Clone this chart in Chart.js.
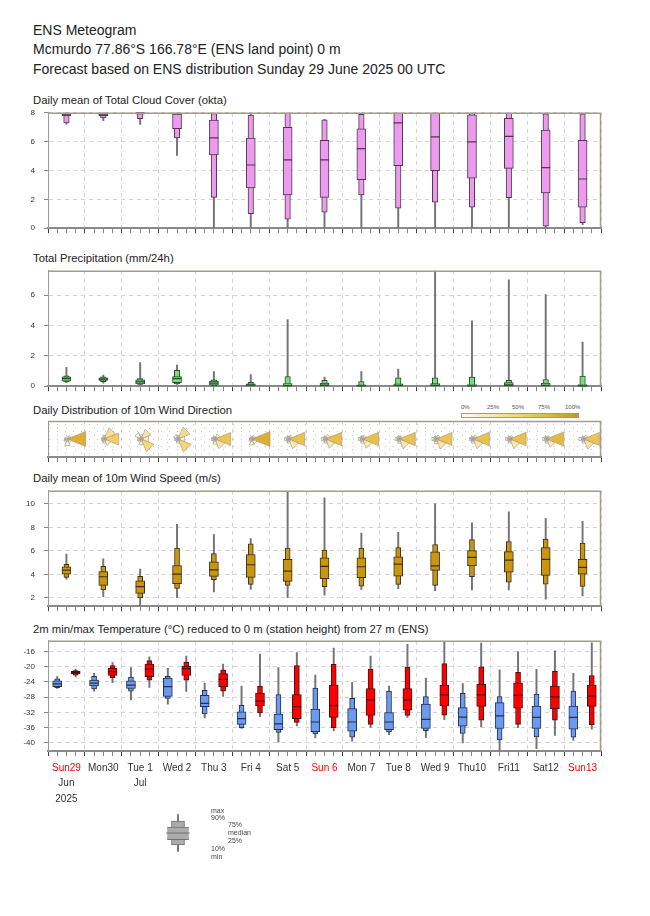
<!DOCTYPE html>
<html>
<head>
<meta charset="utf-8">
<title>ENS Meteogram</title>
<script src="https://cdn.jsdelivr.net/npm/chart.js@4.4.1/dist/chart.umd.min.js"></script>
<style>
  body { margin: 0; background: #fff; }
  #page { position: relative; width: 650px; height: 916px; overflow: hidden; font-family: "Liberation Sans", Arial, sans-serif; color: #222; }
  #page canvas { position: absolute; }
  .txt { position: absolute; white-space: nowrap; line-height: 1; }
  .head { left: 33px; font-size: 14px; color: #222; }
  .ptitle { left: 33px; font-size: 11.3px; color: #222; }
  .lg { font-size: 7px; color: #444; }
  .wl { font-size: 6px; color: #555; top: 404px; }
</style>
</head>
<body>
<div id="page">
  <div class="txt head" style="top:23px">ENS Meteogram</div>
  <div class="txt head" style="top:42px">Mcmurdo 77.86°S 166.78°E (ENS land point) 0 m</div>
  <div class="txt head" style="top:62px">Forecast based on ENS distribution Sunday 29 June 2025 00 UTC</div>

  <div class="txt ptitle" style="top:95px">Daily mean of Total Cloud Cover (okta)</div>
  <div class="txt ptitle" style="top:253px">Total Precipitation (mm/24h)</div>
  <div class="txt ptitle" style="top:405px">Daily Distribution of 10m Wind Direction</div>
  <div class="txt ptitle" style="top:473px">Daily mean of 10m Wind Speed (m/s)</div>
  <div class="txt ptitle" style="top:624px">2m min/max Temperature (°C) reduced to 0 m (station height) from 27 m (ENS)</div>

  <div class="txt wl" style="left:461px">0%</div>
  <div class="txt wl" style="left:487px">25%</div>
  <div class="txt wl" style="left:512px">50%</div>
  <div class="txt wl" style="left:538px">75%</div>
  <div class="txt wl" style="left:565px">100%</div>
  <div style="position:absolute;left:461px;top:413px;width:116px;height:3px;border:1px solid #a09a90;background:linear-gradient(to right,#fffdf3,#f3d270 50%,#c8961e)"></div>

  <canvas id="cloud"></canvas>
  <canvas id="precip"></canvas>
  <canvas id="wdir"></canvas>
  <canvas id="wspeed"></canvas>
  <canvas id="temp"></canvas>
  <canvas id="legend"></canvas>

  <div class="txt lg" style="left:211px;top:807px">max</div>
  <div class="txt lg" style="left:211px;top:814px">90%</div>
  <div class="txt lg" style="left:228px;top:821px">75%</div>
  <div class="txt lg" style="left:228px;top:829px">median</div>
  <div class="txt lg" style="left:228px;top:837px">25%</div>
  <div class="txt lg" style="left:211px;top:845px">10%</div>
  <div class="txt lg" style="left:211px;top:853px">min</div>
</div>

<script>
// days and axis labels
var days = ['Sun29', 'Mon30', 'Tue 1', 'Wed 2', 'Thu 3', 'Fri 4', 'Sat 5', 'Sun 6', 'Mon 7', 'Tue 8', 'Wed 9', 'Thu10', 'Fri11', 'Sat12', 'Sun13'];
var sundays = [0, 7, 14];
var monthTicks = [0.5, 2.5];
var monthLabels = [['Jun', '2025'], ['Jul']];

// total cloud cover (okta)
var cloudTicks = [0, 2, 4, 6, 8];
var cloudMin = [7.2, 7.45, 7.2, 5.05, 0, 0, 0, 0, 0, 0, 0, 0, 0, 0, 0.25];
var cloudP10 = [7.3, 7.65, 7.6, 6.25, 2.13, 1.0, 0.63, 1.11, 2.3, 1.39, 1.81, 1.46, 2.11, 0.14, 0.39];
var cloudP25 = [7.8, 7.8, 7.9, 6.9, 5.08, 2.8, 2.3, 2.13, 3.36, 4.34, 3.99, 3.46, 4.15, 2.44, 1.46];
var cloudMed = [7.9, 7.9, 8, 7.9, 6.26, 4.38, 4.73, 4.73, 5.52, 7.3, 6.33, 5.99, 6.36, 4.2, 3.41];
var cloudP75 = [8, 8, 8, 8, 7.5, 6.24, 7.0, 6.1, 6.89, 7.96, 8, 7.86, 7.61, 6.8, 6.1];
var cloudP90 = [8, 8, 8, 8, 7.95, 7.84, 8, 7.52, 7.89, 8, 8, 8, 8, 7.93, 7.93];
var cloudMax = [8, 8, 8, 8, 8, 7.9, 8, 7.55, 7.9, 8, 8, 8, 8, 8, 8];

// total precipitation (mm/24h)
var precipTicks = [0, 2, 4, 6];
var precipMin = [0.24, 0.2, 0.07, 0.11, 0, 0, 0, 0, 0, 0, 0, 0, 0, 0, 0];
var precipP10 = [0.29, 0.3, 0.11, 0.15, 0.02, 0, 0, 0, 0, 0, 0, 0, 0, 0, 0];
var precipP25 = [0.33, 0.38, 0.15, 0.24, 0.07, 0, 0, 0, 0, 0, 0, 0, 0, 0, 0];
var precipMed = [0.5, 0.46, 0.29, 0.5, 0.2, 0.09, 0.04, 0.07, 0.02, 0.05, 0.05, 0.02, 0.09, 0.05, 0.02];
var precipP75 = [0.62, 0.55, 0.42, 0.64, 0.33, 0.15, 0.18, 0.2, 0.09, 0.15, 0.18, 0.11, 0.24, 0.2, 0.11];
var precipP90 = [0.68, 0.62, 0.5, 1.04, 0.42, 0.26, 0.64, 0.38, 0.31, 0.55, 0.55, 0.6, 0.38, 0.44, 0.66];
var precipMax = [1.24, 0.73, 1.55, 1.39, 0.97, 0.77, 4.39, 0.6, 0.97, 1.13, 8.5, 4.3, 7.0, 6.03, 2.91];

// wind direction frequency (%) per sector N, NE, E, SE, S, SW, W, NW
var dirSectors = [0, 45, 90, 135, 180, 225, 270, 315];
var windDirPct = [
  [0, 3, 78, 4, 10, 3, 2, 0],
  [3, 30, 48, 10, 4, 2, 2, 1],
  [4, 22, 12, 38, 8, 3, 3, 10],
  [3, 33, 10, 40, 4, 2, 3, 5],
  [1, 6, 58, 22, 6, 2, 3, 2],
  [1, 3, 78, 6, 8, 2, 1, 1],
  [2, 4, 60, 22, 4, 2, 4, 2],
  [1, 5, 62, 20, 4, 2, 4, 2],
  [2, 4, 62, 20, 4, 2, 4, 2],
  [2, 3, 60, 23, 4, 2, 4, 2],
  [1, 4, 58, 24, 5, 2, 4, 2],
  [1, 4, 62, 22, 4, 2, 3, 2],
  [1, 3, 62, 22, 4, 2, 4, 2],
  [1, 3, 68, 16, 4, 2, 4, 2],
  [1, 4, 58, 24, 4, 2, 5, 2]
];

// 10m wind speed (m/s)
var windTicks = [2, 4, 6, 8, 10];
var windMin = [3.6, 2.11, 1.35, 2.03, 2.51, 2.73, 2.03, 2.23, 2.73, 2.79, 2.62, 2.68, 2.68, 1.89, 2.17];
var windP10 = [3.75, 2.68, 2.0, 2.82, 3.55, 3.15, 3.07, 2.96, 3.01, 3.15, 3.07, 3.8, 3.35, 3.18, 2.99];
var windP25 = [4.03, 3.07, 2.39, 3.21, 3.83, 3.75, 3.41, 3.63, 3.72, 3.86, 4.34, 4.73, 4.2, 3.92, 4.03];
var windMed = [4.37, 3.8, 2.96, 4.03, 4.39, 4.82, 4.28, 4.68, 4.65, 4.87, 4.73, 5.44, 5.21, 5.27, 4.59];
var windP75 = [4.65, 4.23, 3.46, 4.76, 5.07, 5.69, 5.27, 5.41, 5.41, 5.49, 5.92, 6.03, 5.94, 6.28, 5.27];
var windP90 = [4.85, 4.68, 3.83, 6.23, 5.77, 6.59, 6.23, 6.06, 6.23, 6.28, 6.54, 6.96, 6.79, 7.01, 6.65];
var windMax = [5.72, 5.32, 4.45, 8.25, 7.38, 7.04, 11.2, 10.5, 7.52, 7.58, 10.0, 8.39, 9.32, 8.76, 8.51];

// 2m temperature (°C), daily minimum
var tempTicks = [-16, -20, -24, -28, -32, -36, -40];
var tminMin = [-25.7, -26.4, -28.7, -29.8, -33.4, -36.2, -39.8, -38.7, -39.5, -37.8, -38.6, -40.0, -42.0, -41.5, -39.3];
var tminP10 = [-25.5, -25.8, -26.4, -28.3, -32.4, -36.0, -37.2, -37.6, -38.5, -37.1, -36.8, -37.5, -39.2, -38.4, -38.5];
var tminP25 = [-25.2, -25.0, -25.7, -27.8, -30.5, -35.1, -36.5, -37.0, -36.9, -36.5, -36.2, -35.6, -36.2, -36.2, -36.4];
var tminMed = [-24.5, -24.3, -24.8, -25.2, -29.6, -33.6, -35.0, -34.5, -34.5, -34.5, -33.8, -33.2, -32.9, -33.3, -33.3];
var tminP75 = [-23.7, -23.5, -23.7, -23.0, -27.5, -31.8, -32.4, -31.1, -31.0, -32.0, -29.8, -30.7, -29.4, -30.3, -30.3];
var tminP90 = [-23.2, -22.5, -22.7, -22.5, -26.2, -30.1, -27.3, -25.6, -28.3, -26.4, -27.8, -27.0, -27.8, -27.2, -26.4];
var tminMax = [-22.6, -21.7, -20.2, -20.4, -24.3, -25.1, -20.2, -22.2, -24.1, -25.1, -23.0, -24.4, -20.8, -20.7, -21.7];

// 2m temperature (°C), daily maximum
var tmaxMin = [-22.7, -24.2, -25.4, -26.5, -27.8, -33.1, -35.5, -36.8, -35.9, -33.3, -33.9, -35.8, -36.0, -38.0, -36.4];
var tmaxP10 = [-22.2, -22.9, -23.5, -23.5, -26.4, -32.1, -34.6, -36.0, -35.1, -32.8, -32.7, -34.0, -35.1, -34.0, -35.2];
var tmaxP25 = [-21.9, -22.3, -22.6, -22.3, -25.2, -30.2, -33.6, -33.3, -32.8, -31.4, -30.3, -30.4, -30.9, -31.0, -30.4];
var tmaxMed = [-21.5, -21.3, -20.6, -20.5, -23.3, -29.0, -30.5, -30.2, -28.7, -28.7, -27.4, -27.4, -27.5, -27.9, -27.7];
var tmaxP75 = [-21.2, -20.4, -19.3, -19.9, -21.8, -26.9, -27.3, -24.8, -25.7, -25.7, -24.9, -24.6, -24.2, -25.1, -24.8];
var tmaxP90 = [-21.0, -19.7, -18.4, -18.8, -20.8, -25.1, -19.7, -19.4, -20.6, -20.1, -19.2, -20.0, -21.5, -21.2, -22.3];
var tmaxMax = [-20.6, -18.9, -17.4, -17.2, -19.3, -16.7, -16.3, -15.1, -17.2, -14.1, -13.4, -13.8, -16.0, -15.8, -13.7];

// explanatory box for the key (min, 10%, 25%, median, 75%, 90%, max)
var keyBox = [0, 9, 16, 25, 33, 41, 50];


Chart.defaults.font.family = '"Liberation Sans", Arial, sans-serif';
Chart.defaults.color = '#333';

var PAGE_W = 650, PLOT_LEFT = 48, PLOT_RIGHT = 601;
var quarterTicks = [];
for (var q = 0; q <= days.length * 4; q++) quarterTicks.push(q / 4);

function stats(min, p10, p25, med, p75, p90, max) {
  return { min: min, p10: p10, p25: p25, med: med, p75: p75, p90: p90, max: max };
}

// one box plot = whisker bar + 10-90 bar + 25-75 bar + median tick
function boxSets(s, off, fill, edge, wide, narrow) {
  function span(lo, hi) {
    return lo.map(function (v, i) { return { x: i + off, y: [v, hi[i]] }; });
  }
  var bar = { type: 'bar', grouped: false, borderSkipped: false, clip: 0 };
  return [
    { type: 'line', data: s.med.map(function (v, i) { return { x: i + off, y: v }; }),
      showLine: false, pointStyle: 'line', pointRadius: wide / 2, pointHoverRadius: wide / 2,
      pointBorderColor: edge, pointBorderWidth: 1.2, order: 0, clip: 1 },
    Object.assign({}, bar, { data: span(s.p25, s.p75), backgroundColor: fill, borderColor: edge, borderWidth: 1, barThickness: wide, order: 1 }),
    Object.assign({}, bar, { data: span(s.p10, s.p90), backgroundColor: fill, borderColor: edge, borderWidth: 1, barThickness: narrow, order: 2 }),
    Object.assign({}, bar, { data: span(s.min, s.max), backgroundColor: '#747474', borderWidth: 0, barThickness: 1.3, order: 3 })
  ];
}

var framePlugin = {
  id: 'frame',
  afterDraw: function (chart) {
    var a = chart.chartArea, c = chart.ctx;
    c.save();
    c.strokeStyle = '#a39b8e';
    c.lineWidth = 1.5;
    c.beginPath();
    c.moveTo(a.left, a.top + 0.5);
    c.lineTo(a.right - 0.5, a.top + 0.5);
    c.lineTo(a.right - 0.5, a.bottom);
    c.stroke();
    c.restore();
  }
};

function roseColor(p) {
  var f = Math.min(p / 100, 1);
  var a = [255, 250, 235], b = [243, 205, 90], c = [205, 150, 20];
  var from = f < 0.5 ? a : b, to = f < 0.5 ? b : c, t = f < 0.5 ? f * 2 : (f - 0.5) * 2;
  return 'rgb(' + from.map(function (v, k) { return Math.round(v + (to[k] - v) * t); }).join(',') + ')';
}

var rosePlugin = {
  id: 'roses',
  afterDatasetsDraw: function (chart) {
    var c = chart.ctx, xs = chart.scales.x, ys = chart.scales.y, a = chart.chartArea;
    var half = Math.PI / 8;
    c.save();
    c.beginPath();
    c.rect(a.left, a.top, a.right - a.left, a.bottom - a.top);
    c.clip();
    windDirPct.forEach(function (row, i) {
      var cx = xs.getPixelForValue(i + 0.5) + 1, cy = ys.getPixelForValue(0);
      row.forEach(function (p, k) {
        if (!p) return;
        var len = (cy - ys.getPixelForValue(Math.sqrt(p / 100) * 1.15)) / Math.cos(half);
        var ang = dirSectors[k] * Math.PI / 180;
        c.beginPath();
        c.moveTo(cx, cy);
        c.lineTo(cx + Math.sin(ang - half) * len, cy - Math.cos(ang - half) * len);
        c.lineTo(cx + Math.sin(ang + half) * len, cy - Math.cos(ang + half) * len);
        c.closePath();
        c.fillStyle = roseColor(p);
        c.fill();
        c.strokeStyle = '#9a9486';
        c.lineWidth = 0.6;
        c.stroke();
      });
      c.beginPath();
      c.arc(cx, cy, 2.2, 0, Math.PI * 2);
      c.strokeStyle = '#999';
      c.lineWidth = 0.8;
      c.stroke();
    });
    c.restore();
  }
};

function makePanel(id, top, bottom, yMin, yMax, yTicks, datasets, opt) {
  opt = opt || {};
  var xH = opt.xH || 7, x2H = opt.x2H || 0;
  var cv = document.getElementById(id);
  cv.style.left = '0px';

  var scales = {
    x: {
      type: 'linear', min: 0, max: days.length, offset: false,
      afterBuildTicks: function (s) { s.ticks = quarterTicks.map(function (v) { return { value: v }; }); },
      afterFit: function (s) { s.height = xH; },
      grid: {
        offset: false,
        color: function (c) {
          if (!c.tick) return 'rgba(0,0,0,0)';
          if (c.tick.value % 1 === 0) return '#d4d4d4';
          return opt.stipple ? '#c8c8c8' : 'rgba(0,0,0,0)';
        },
        tickLength: 5,
        tickWidth: 1,
        tickColor: function (c) { return c.tick && c.tick.value % 1 === 0 ? '#444' : '#888'; }
      },
      border: {
        color: '#8a8a8a', width: 2,
        dash: function (c) { return c.tick && c.tick.value % 1 !== 0 ? [1, 6] : [4, 4]; }
      },
      ticks: {
        display: !!opt.dayLabels, autoSkip: false, maxRotation: 0, padding: 6,
        font: { size: 10 },
        color: function (c) {
          var i = c.tick ? c.tick.value - 0.5 : -1;
          return sundays.indexOf(i) >= 0 ? '#ff0000' : '#333';
        },
        callback: function (v) {
          var i = v - 0.5;
          return i % 1 === 0 && days[i] ? days[i] : '';
        }
      }
    },
    y: {
      min: yMin, max: yMax,
      afterBuildTicks: function (s) { s.ticks = yTicks.map(function (v) { return { value: v }; }); },
      afterFit: function (s) { s.width = PLOT_LEFT; },
      grid: { color: opt.stipple ? '#c8c8c8' : '#d4d4d4', tickLength: opt.stipple ? 0 : 4, tickColor: '#888' },
      border: { color: '#9a9a9a', width: 1, dash: opt.stipple ? [1, 7] : [4, 4] },
      ticks: { display: !opt.stipple, font: { size: 8 }, padding: 9, color: '#333' }
    }
  };
  if (opt.months) {
    scales.x2 = {
      type: 'linear', position: 'bottom', min: 0, max: days.length, offset: false,
      afterBuildTicks: function (s) { s.ticks = monthTicks.map(function (v) { return { value: v }; }); },
      afterFit: function (s) { s.height = x2H; },
      grid: { display: false, drawTicks: false },
      border: { display: false },
      ticks: {
        autoSkip: false, maxRotation: 0, padding: 0, color: '#333',
        font: { size: 10, lineHeight: 1.6 },
        callback: function (v) { return monthLabels[monthTicks.indexOf(v)]; }
      }
    };
  }

  function build(h) {
    cv.width = PAGE_W;
    cv.height = h;
    return new Chart(cv, {
      type: 'bar',
      data: { datasets: datasets },
      options: {
        responsive: false,
        maintainAspectRatio: false,
        animation: false,
        events: [],
        layout: { padding: { left: 0, right: PAGE_W - PLOT_RIGHT, top: 8, bottom: 0 } },
        plugins: { legend: { display: false }, tooltip: { enabled: false } },
        scales: scales
      },
      plugins: [framePlugin].concat(opt.plugins || [])
    });
  }

  var h = bottom - top + 8 + xH + x2H;
  cv.style.top = (top - 8) + 'px';
  var chart = build(h);

  // the tick labels can push the plot area in; rebuild on a taller canvas so it lands on [top, bottom]
  var a = chart.chartArea;
  var dt = Math.round(a.top - 8), db = Math.round((h - xH - x2H) - a.bottom);
  if (dt || db) {
    chart.destroy();
    cv.style.top = (top - 8 - dt) + 'px';
    chart = build(h + dt + db);
  }
  return chart;
}

makePanel('cloud', 113, 228, 0, 8, cloudTicks,
  boxSets(stats(cloudMin, cloudP10, cloudP25, cloudMed, cloudP75, cloudP90, cloudMax), 0.5, '#ee9aee', '#4a3a4a', 9, 5.5));

makePanel('precip', 271, 386, 0, 7.6, precipTicks,
  boxSets(stats(precipMin, precipP10, precipP25, precipMed, precipP75, precipP90, precipMax), 0.5, '#74e07c', '#2e4a2e', 9, 5.5));

makePanel('wdir', 421, 457, -1, 1, [-0.78, -0.39, 0, 0.39, 0.78], [],
  { stipple: true, plugins: [rosePlugin] });

makePanel('wspeed', 491, 606, 1.3, 11.1, windTicks,
  boxSets(stats(windMin, windP10, windP25, windMed, windP75, windP90, windMax), 0.5, '#c9960f', '#3a3020', 9, 5));

makePanel('temp', 641, 751, -42.1, -13.2, tempTicks,
  boxSets(stats(tminMin, tminP10, tminP25, tminMed, tminP75, tminP90, tminMax), 0.25, '#6a9bf0', '#2a3048', 9, 5)
    .concat(boxSets(stats(tmaxMin, tmaxP10, tmaxP25, tmaxMed, tmaxP75, tmaxP90, tmaxMax), 0.75, '#ff0000', '#4a1010', 9, 5)),
  { dayLabels: true, months: true, xH: 24, x2H: 40 });

// key box under the chart
(function () {
  var cv = document.getElementById('legend');
  cv.width = 50; cv.height = 66;
  cv.style.left = '153px'; cv.style.top = '800px';
  var k = keyBox;
  new Chart(cv, {
    type: 'bar',
    data: { datasets: boxSets(stats([k[0]], [k[1]], [k[2]], [k[3]], [k[4]], [k[5]], [k[6]]), 0.5, '#ababab', '#707070', 26, 13) },
    options: {
      responsive: false, animation: false, events: [],
      layout: { padding: { top: 8, bottom: 8, left: 0, right: 0 } },
      plugins: { legend: { display: false }, tooltip: { enabled: false } },
      scales: {
        x: { type: 'linear', min: 0, max: 1, offset: false, display: false },
        y: { min: 0, max: 50, display: false }
      }
    }
  });
})();
</script>
</body>
</html>
